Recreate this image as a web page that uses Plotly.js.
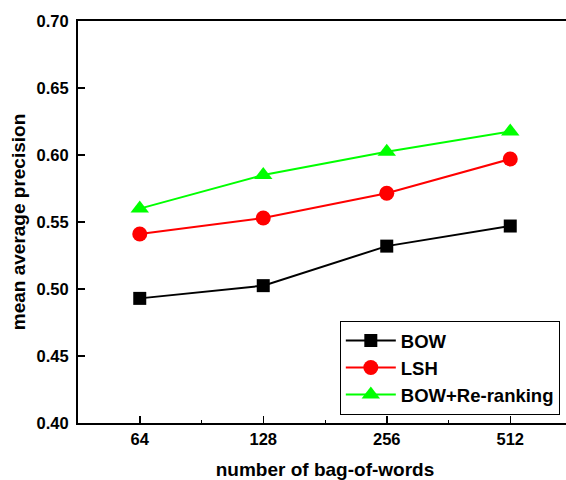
<!DOCTYPE html>
<html>
<head>
<meta charset="utf-8">
<script src="https://cdn.plot.ly/plotly-3.0.1.min.js"></script>
<style>
html,body{margin:0;padding:0;overflow:hidden;background:#fff;}
#chart{width:575px;height:480px;}
</style>
</head>
<body>
<div id="chart"></div>
<script>
const categories = ["64", "128", "256", "512"];
const bowValues = [0.493, 0.5025, 0.532, 0.547];
const lshValues = [0.541, 0.553, 0.5715, 0.597];
const rerankValues = [0.560, 0.585, 0.6025, 0.6175];
const yTickVals = [0.40, 0.45, 0.50, 0.55, 0.60, 0.65, 0.70];
const yTickText = ["0.40", "0.45", "0.50", "0.55", "0.60", "0.65", "0.70"];

const xIdx = categories.map((c, i) => i);
const FONT = "Liberation Sans, Arial, sans-serif";

const traces = [
  {x: xIdx, y: bowValues, name: "BOW", mode: "lines+markers",
   line: {color: "#000000", width: 2}, marker: {symbol: "square", size: 13, color: "#000000"}},
  {x: xIdx, y: lshValues, name: "LSH", mode: "lines+markers",
   line: {color: "#ff0000", width: 2}, marker: {symbol: "circle", size: 15, color: "#ff0000"}},
  {x: xIdx, y: rerankValues, name: "BOW+Re-ranking", mode: "lines+markers",
   line: {color: "#00ff00", width: 2}, marker: {symbol: "triangle-up", size: 16, color: "#00ff00"}}
];

const layout = {
  width: 575, height: 480,
  margin: {l: 78, r: 3, t: 21, b: 57},
  paper_bgcolor: "#ffffff", plot_bgcolor: "#ffffff",
  font: {family: FONT, color: "#000000", size: 15, weight: "bold"},
  showlegend: true,
  legend: {x: 0.530, y: 0.254, xanchor: "left", yanchor: "top",
    bordercolor: "#000000", borderwidth: 1, bgcolor: "#ffffff",
    font: {family: FONT, size: 18.5, weight: "bold", color: "#000000"},
    itemwidth: 50},
  xaxis: {
    range: [-0.5, 3.5], tickmode: "array", tickvals: xIdx, ticktext: categories,
    showline: true, linecolor: "#000000", linewidth: 2, mirror: true,
    ticks: "inside", ticklen: 7, tickwidth: 1.5, tickcolor: "#000000",
    minor: {tickvals: [0.5, 1.5, 2.5], ticks: "inside", ticklen: 3, tickwidth: 1, tickcolor: "#000000"},
    showgrid: false, zeroline: false,
    tickfont: {family: FONT, size: 16.5, weight: "bold"},
    title: {text: "number of bag-of-words", font: {family: FONT, size: 19, weight: "bold"}, standoff: 22}
  },
  yaxis: {
    range: [0.40, 0.70], tickmode: "array", tickvals: yTickVals, ticktext: yTickText,
    showline: true, linecolor: "#000000", linewidth: 2, mirror: true,
    ticks: "inside", ticklen: 7, tickwidth: 1.5, tickcolor: "#000000",
    ticklabelstandoff: 4,
    showgrid: false, zeroline: false,
    tickfont: {family: FONT, size: 16.5, weight: "bold"},
    title: {text: "mean average precision", font: {family: FONT, size: 19, weight: "bold"}, standoff: 6}
  }
};

Plotly.newPlot("chart", traces, layout, {displayModeBar: false, staticPlot: true});
</script>
</body>
</html>
